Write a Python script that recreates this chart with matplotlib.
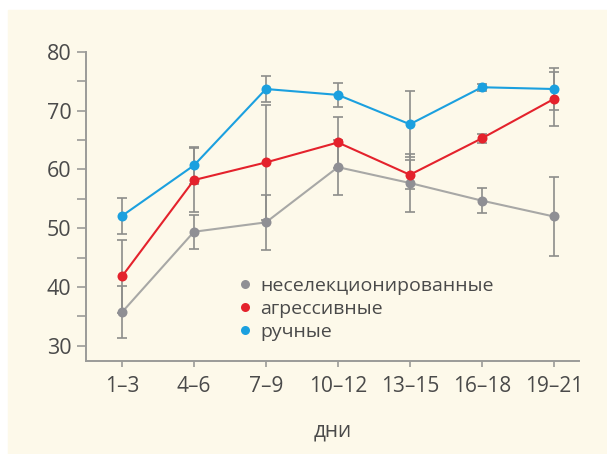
import numpy as np
import matplotlib
matplotlib.use("Agg")
import matplotlib.pyplot as plt
from matplotlib.patches import Rectangle
from matplotlib.ticker import MultipleLocator

plt.rcParams["font.family"] = ["Open Sans", "DejaVu Sans"]

# ==========================
# данные
# ==========================
days = ["1–3", "4–6", "7–9", "10–12", "13–15", "16–18", "19–21"]

gray_mean = [35.7, 49.4, 51.0, 60.4, 57.7, 54.7, 52.0]
gray_err = [4.4, 2.9, 4.7, 4.7, 4.9, 2.1, 6.8]

red_mean = [41.8, 58.2, 61.2, 64.6, 59.1, 65.3, 72.0]
red_err = [6.2, 5.4, 9.8, 4.3, 2.5, 0.8, 4.6]

blue_mean = [52.1, 60.7, 73.7, 72.7, 67.7, 74.0, 73.7]
blue_err = [3.1, 3.2, 2.2, 2.0, 5.6, 0.6, 3.5]

labels = ["неселекционированные", "агрессивные", "ручные"]

# ==========================
# оформление
# ==========================
cream = "#fdf9ea"
axis_col = "#9b9b98"
text_col = "#4a4a4a"
err_col = "#8d8d8b"
gray_marker = "#8f8f94"
gray_line = "#a8a8a6"
red = "#e4222c"
blue = "#1ba0df"

fig = plt.figure(figsize=(6.07, 4.54), dpi=100)
fig.patches.append(
    Rectangle((8 / 607, 0), 1 - 8 / 607, 444 / 454,
              transform=fig.transFigure, color=cream, zorder=-10)
)

ax = fig.add_axes([86 / 607, 93 / 454, 493 / 607, 309 / 454])
ax.set_facecolor("none")
ax.set_zorder(5)

x = np.arange(len(days))

series = [
    (gray_mean, gray_err, gray_line, gray_marker),
    (red_mean, red_err, red, red),
    (blue_mean, blue_err, blue, blue),
]

for k, (m, e, lc, mc) in enumerate(series):
    ax.errorbar(x, m, yerr=e, fmt="none", ecolor=err_col,
                elinewidth=1.2, capsize=3.6, capthick=1.2, zorder=2)

for k, (m, e, lc, mc) in enumerate(series):
    ax.plot(x, m, color=lc, lw=1.5, zorder=3 + k)
    ax.plot(x, m, "o", color=mc, ms=7.2, mec="none", zorder=6 + k,
            label=labels[k])

ax.set_xlim(-0.5, 6.35)
ax.set_ylim(27.4, 80)
ax.set_xticks(x)
ax.set_xticklabels(days)
ax.yaxis.set_major_locator(MultipleLocator(10))
ax.yaxis.set_minor_locator(MultipleLocator(5))
ax.set_yticks([30, 40, 50, 60, 70, 80])

for s in ["top", "right"]:
    ax.spines[s].set_visible(False)
for s in ["left", "bottom"]:
    ax.spines[s].set_color(axis_col)
    ax.spines[s].set_linewidth(1.4)

ax.tick_params(axis="y", which="both", length=6.5, width=1.2,
               color=axis_col, labelcolor=text_col, labelsize=15.5, pad=4)
ax.tick_params(axis="x", length=4.5, width=1.2, color=axis_col,
               labelcolor=text_col, labelsize=15, pad=6)

ax.set_xlabel("дни", fontsize=15, color=text_col, labelpad=17)

leg = ax.legend(loc="upper left", bbox_to_anchor=(0.302, 0.272),
                frameon=False, fontsize=14, handletextpad=0.3,
                labelspacing=0.25, borderpad=0, handlelength=1.0,
                borderaxespad=0, markerscale=0.9)
for t in leg.get_texts():
    t.set_color(text_col)

plt.savefig("out.png", dpi=100)
plt.close()
